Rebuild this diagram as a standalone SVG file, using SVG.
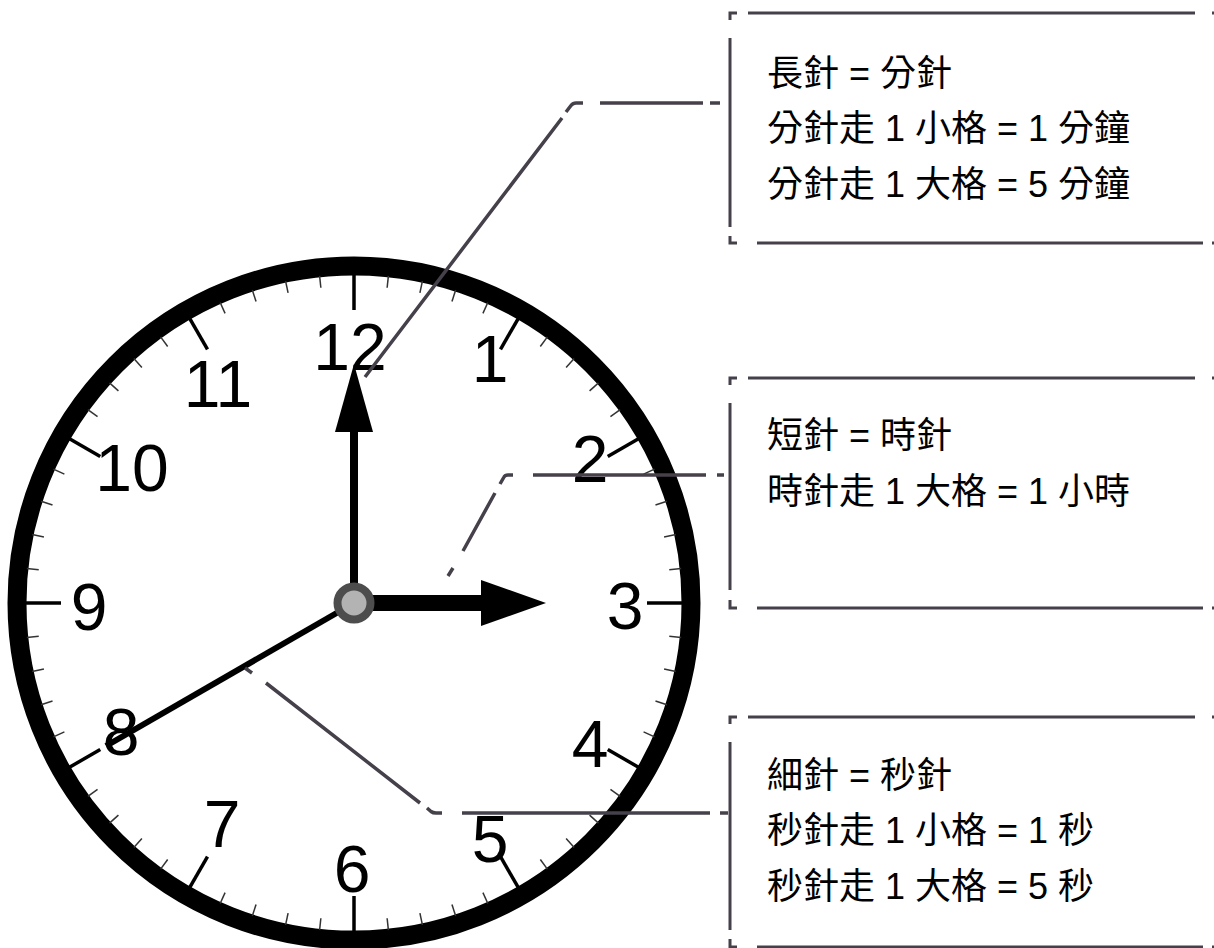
<svg xmlns="http://www.w3.org/2000/svg" xmlns:xlink="http://www.w3.org/1999/xlink" width="1214" height="948" viewBox="0 0 1214 948">
<style>
.num{font-family:"Liberation Sans",Arial,sans-serif;font-size:66px;fill:#000;text-anchor:middle}
.t{font-family:"Liberation Sans","Noto Sans CJK TC",sans-serif;font-size:36px;fill:#000}
.lead{fill:none;stroke:#45404a;stroke-width:3.5;stroke-linecap:butt;stroke-linejoin:round}
.box{fill:none;stroke:#45404a;stroke-width:3;stroke-linejoin:miter}
</style>
<defs>
<line id="mt" x1="354" y1="274" x2="354" y2="286" stroke="#333" stroke-width="1.5"/>
<line id="Mt" x1="354" y1="274" x2="354" y2="310" stroke="#000" stroke-width="3.5"/>
</defs>
<rect width="1214" height="948" fill="#fff"/>
<g id="clock">
<circle cx="354" cy="603" r="337" fill="#fff" stroke="#000" stroke-width="19"/>
<g id="ticks">
<use xlink:href="#Mt" transform="rotate(0 354 603)"/>
<use xlink:href="#mt" transform="rotate(6 354 603)"/>
<use xlink:href="#mt" transform="rotate(12 354 603)"/>
<use xlink:href="#mt" transform="rotate(18 354 603)"/>
<use xlink:href="#mt" transform="rotate(24 354 603)"/>
<use xlink:href="#Mt" transform="rotate(30 354 603)"/>
<use xlink:href="#mt" transform="rotate(36 354 603)"/>
<use xlink:href="#mt" transform="rotate(42 354 603)"/>
<use xlink:href="#mt" transform="rotate(48 354 603)"/>
<use xlink:href="#mt" transform="rotate(54 354 603)"/>
<use xlink:href="#Mt" transform="rotate(60 354 603)"/>
<use xlink:href="#mt" transform="rotate(66 354 603)"/>
<use xlink:href="#mt" transform="rotate(72 354 603)"/>
<use xlink:href="#mt" transform="rotate(78 354 603)"/>
<use xlink:href="#mt" transform="rotate(84 354 603)"/>
<use xlink:href="#Mt" transform="rotate(90 354 603)"/>
<use xlink:href="#mt" transform="rotate(96 354 603)"/>
<use xlink:href="#mt" transform="rotate(102 354 603)"/>
<use xlink:href="#mt" transform="rotate(108 354 603)"/>
<use xlink:href="#mt" transform="rotate(114 354 603)"/>
<use xlink:href="#Mt" transform="rotate(120 354 603)"/>
<use xlink:href="#mt" transform="rotate(126 354 603)"/>
<use xlink:href="#mt" transform="rotate(132 354 603)"/>
<use xlink:href="#mt" transform="rotate(138 354 603)"/>
<use xlink:href="#mt" transform="rotate(144 354 603)"/>
<use xlink:href="#Mt" transform="rotate(150 354 603)"/>
<use xlink:href="#mt" transform="rotate(156 354 603)"/>
<use xlink:href="#mt" transform="rotate(162 354 603)"/>
<use xlink:href="#mt" transform="rotate(168 354 603)"/>
<use xlink:href="#mt" transform="rotate(174 354 603)"/>
<use xlink:href="#Mt" transform="rotate(180 354 603)"/>
<use xlink:href="#mt" transform="rotate(186 354 603)"/>
<use xlink:href="#mt" transform="rotate(192 354 603)"/>
<use xlink:href="#mt" transform="rotate(198 354 603)"/>
<use xlink:href="#mt" transform="rotate(204 354 603)"/>
<use xlink:href="#Mt" transform="rotate(210 354 603)"/>
<use xlink:href="#mt" transform="rotate(216 354 603)"/>
<use xlink:href="#mt" transform="rotate(222 354 603)"/>
<use xlink:href="#mt" transform="rotate(228 354 603)"/>
<use xlink:href="#mt" transform="rotate(234 354 603)"/>
<use xlink:href="#Mt" transform="rotate(240 354 603)"/>
<use xlink:href="#mt" transform="rotate(246 354 603)"/>
<use xlink:href="#mt" transform="rotate(252 354 603)"/>
<use xlink:href="#mt" transform="rotate(258 354 603)"/>
<use xlink:href="#mt" transform="rotate(264 354 603)"/>
<use xlink:href="#Mt" transform="rotate(270 354 603)"/>
<use xlink:href="#mt" transform="rotate(276 354 603)"/>
<use xlink:href="#mt" transform="rotate(282 354 603)"/>
<use xlink:href="#mt" transform="rotate(288 354 603)"/>
<use xlink:href="#mt" transform="rotate(294 354 603)"/>
<use xlink:href="#Mt" transform="rotate(300 354 603)"/>
<use xlink:href="#mt" transform="rotate(306 354 603)"/>
<use xlink:href="#mt" transform="rotate(312 354 603)"/>
<use xlink:href="#mt" transform="rotate(318 354 603)"/>
<use xlink:href="#mt" transform="rotate(324 354 603)"/>
<use xlink:href="#Mt" transform="rotate(330 354 603)"/>
<use xlink:href="#mt" transform="rotate(336 354 603)"/>
<use xlink:href="#mt" transform="rotate(342 354 603)"/>
<use xlink:href="#mt" transform="rotate(348 354 603)"/>
<use xlink:href="#mt" transform="rotate(354 354 603)"/>
</g>
<g id="numbers">
<text class="num" x="350" y="370">12</text>
<text class="num" x="490" y="382">1</text>
<text class="num" x="590" y="482">2</text>
<text class="num" x="625" y="629">3</text>
<text class="num" x="590" y="767">4</text>
<text class="num" x="490" y="862">5</text>
<text class="num" x="352" y="892">6</text>
<text class="num" x="222" y="847">7</text>
<text class="num" x="121" y="755">8</text>
<text class="num" x="89" y="630">9</text>
<text class="num" x="132" y="491">10</text>
<text class="num" x="218" y="407">11</text>
</g>
<g id="hands">
<line id="second-hand" x1="354" y1="603" x2="106" y2="746" stroke="#000" stroke-width="6"/>
<g id="minute-hand">
<line x1="354" y1="603" x2="354" y2="430" stroke="#000" stroke-width="8"/>
<polygon points="335,432 373,432 354,364" fill="#000"/>
</g>
<g id="hour-hand">
<line x1="354" y1="603" x2="484" y2="603" stroke="#000" stroke-width="16"/>
<polygon points="481,580 546,603 481,626" fill="#000"/>
</g>
<circle cx="354" cy="603" r="16.5" fill="#b3b3b3" stroke="#4d4d4d" stroke-width="8"/>
</g>
</g>
<g id="connectors">
<path class="lead" d="M365,377 L562,118 M566,112 L571,105.5 Q573,103 576,103 L583,103 M600,103 L703,103 M710,103 L720,103"/>
<path class="lead" d="M448,576 L453,568 M463,551 L495,493 M500,484 L504,477 Q505,475 508,475 L513,475 M533,475 L706,475 M717,475 L724,475"/>
<path class="lead" d="M245,668 L252,673 M266,683 L420,803 M427,808 L431,811.5 Q433,813 436,813 L442,813 M462,813 L710,813 M720,813 L728,813"/>
</g>
<g id="box-minute">
<path class="box" d="M730,20 L730,13 L737,13 M748,13 L1195,13 M1212,13 L1220,13 M730,38 L730,227 M730,236 L730,243 L737,243 M757,243 L1203,243 M1212,243 L1220,243"/>
<text class="t" x="767" y="86">長針 = 分針</text>
<text class="t" x="767" y="141">分針走 1 小格 = 1 分鐘</text>
<text class="t" x="767" y="197">分針走 1 大格 = 5 分鐘</text>
</g>
<g id="box-hour">
<path class="box" d="M730,385 L730,378 L737,378 M748,378 L1195,378 M1212,378 L1220,378 M730,403 L730,590 M730,600 L730,608 L737,608 M757,608 L1203,608 M1212,608 L1220,608"/>
<text class="t" x="767" y="448">短針 = 時針</text>
<text class="t" x="767" y="504">時針走 1 大格 = 1 小時</text>
</g>
<g id="box-second">
<path class="box" d="M730,724 L730,717 L737,717 M748,717 L1195,717 M1212,717 L1220,717 M730,742 L730,930 M730,939 L730,947 L737,947 M757,947 L1203,947 M1212,947 L1220,947"/>
<text class="t" x="767" y="788">細針 = 秒針</text>
<text class="t" x="767" y="843">秒針走 1 小格 = 1 秒</text>
<text class="t" x="767" y="899">秒針走 1 大格 = 5 秒</text>
</g>
</svg>
